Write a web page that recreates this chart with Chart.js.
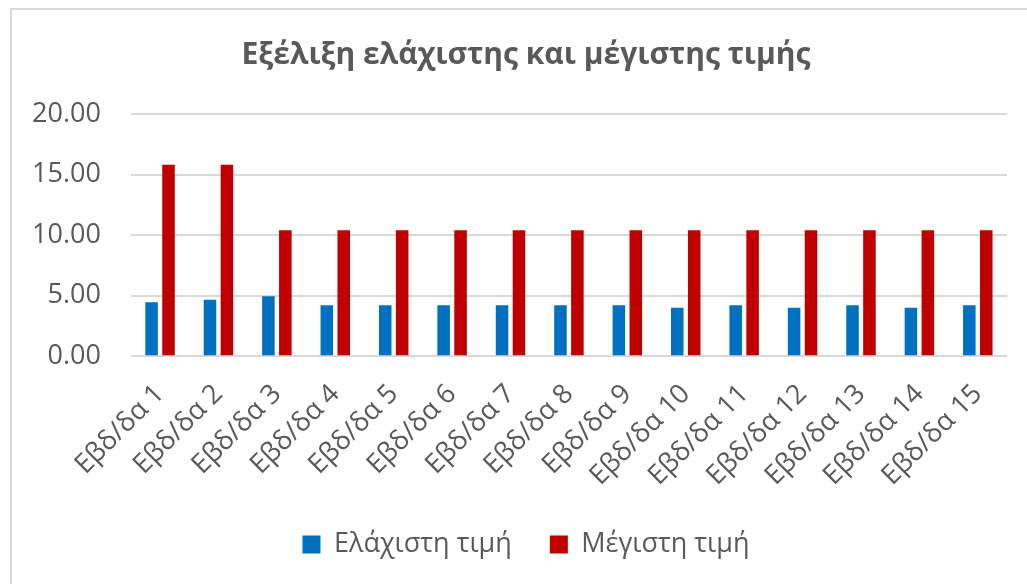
<!DOCTYPE html>
<html>
<head>
<meta charset="utf-8">
<script src="https://cdn.jsdelivr.net/npm/chart.js@4.4.1/dist/chart.umd.min.js"></script>
<style>
  html, body { margin: 0; padding: 0; background: #ffffff; overflow: hidden; }
  #frame {
    position: absolute; left: 10px; top: 8px;
    width: 1040px; height: 600px;
    border: 2px solid #d9d9d9; box-sizing: border-box;
  }
  #wrap { position: absolute; left: 0; top: 0; width: 1052px; height: 584px; }
</style>
</head>
<body>
<div id="frame"></div>
<div id="wrap"><canvas id="chart" width="1052" height="584"></canvas></div>
<script>
// Weekly labels
const categories = [
  'Εβδ/δα 1', 'Εβδ/δα 2', 'Εβδ/δα 3', 'Εβδ/δα 4', 'Εβδ/δα 5',
  'Εβδ/δα 6', 'Εβδ/δα 7', 'Εβδ/δα 8', 'Εβδ/δα 9', 'Εβδ/δα 10',
  'Εβδ/δα 11', 'Εβδ/δα 12', 'Εβδ/δα 13', 'Εβδ/δα 14', 'Εβδ/δα 15'
];
// Lowest price per week
const minPrice = [4.45, 4.65, 4.95, 4.2, 4.2, 4.2, 4.2, 4.2, 4.2, 4.0, 4.2, 4.0, 4.2, 4.0, 4.2];
// Highest price per week
const maxPrice = [15.8, 15.8, 10.4, 10.4, 10.4, 10.4, 10.4, 10.4, 10.4, 10.4, 10.4, 10.4, 10.4, 10.4, 10.4];
// Value axis ticks
const yTicks = [0, 5, 10, 15, 20];

const seriesNames = ['Ελάχιστη τιμή', 'Μέγιστη τιμή'];
const titleText = 'Εξέλιξη ελάχιστης και μέγιστης τιμής';

const textColor = '#595959';
const fontFamily = '"Open Sans", "Noto Sans", sans-serif';

new Chart(document.getElementById('chart'), {
  type: 'bar',
  data: {
    labels: categories,
    datasets: [
      {
        label: seriesNames[0],
        data: minPrice,
        backgroundColor: '#0070C0',
        borderWidth: 0,
        barPercentage: 0.74,
        categoryPercentage: 0.58
      },
      {
        label: seriesNames[1],
        data: maxPrice,
        backgroundColor: '#C00000',
        borderWidth: 0,
        barPercentage: 0.74,
        categoryPercentage: 0.58
      }
    ]
  },
  options: {
    responsive: false,
    animation: false,
    devicePixelRatio: 1,
    layout: { padding: { left: 2, right: 2, top: 20, bottom: 16 } },
    plugins: {
      title: {
        display: true,
        text: titleText,
        color: textColor,
        font: { family: fontFamily, size: 30, weight: 'bold' },
        padding: { top: 17, bottom: 41 }
      },
      legend: {
        position: 'bottom',
        labels: {
          color: textColor,
          font: { family: fontFamily, size: 27 },
          boxWidth: 18,
          boxHeight: 18,
          padding: 38
        }
      },
      tooltip: { enabled: false }
    },
    scales: {
      x: {
        grid: { display: false, drawTicks: false },
        border: { display: false },
        ticks: {
          color: textColor,
          font: { family: fontFamily, size: 27 },
          minRotation: 45,
          maxRotation: 45,
          padding: 22,
          autoSkip: false
        },
        afterFit: (scale) => { scale.height -= 21; }
      },
      y: {
        min: 0,
        max: 20,
        afterBuildTicks: (axis) => { axis.ticks = yTicks.map(v => ({ value: v })); },
        grid: { color: '#d9d9d9', lineWidth: 2, drawTicks: false },
        border: { display: false },
        ticks: {
          color: textColor,
          font: { family: fontFamily, size: 27 },
          padding: 30,
          callback: (v) => Number(v).toFixed(2)
        }
      },
      // empty spacer on the right so the plot ends short of the frame edge
      yRight: {
        position: 'right',
        display: true,
        grid: { display: false, drawTicks: false },
        border: { display: false },
        ticks: { display: false },
        afterFit: (scale) => { scale.width = 43; }
      }
    }
  }
});
</script>
</body>
</html>
